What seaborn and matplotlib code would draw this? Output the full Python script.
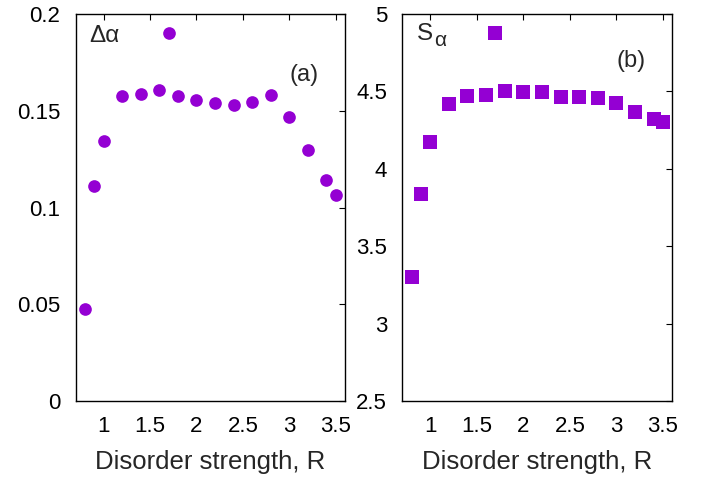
import matplotlib
matplotlib.use("Agg")
import matplotlib.pyplot as plt
import seaborn as sns
import pandas as pd

R = [0.8, 0.9, 1.0, 1.2, 1.4, 1.6, 1.7, 1.8, 2.0, 2.2, 2.4, 2.6, 2.8, 3.0, 3.2, 3.4, 3.5]
delta_alpha = [0.0475, 0.111, 0.1345, 0.1575, 0.1588, 0.1606, 0.1903, 0.1575, 0.1556,
               0.1542, 0.1528, 0.1547, 0.1581, 0.1469, 0.1296, 0.1141, 0.1066]
S_alpha = [3.299, 3.835, 4.171, 4.417, 4.468, 4.477, 4.875, 4.500, 4.494,
           4.494, 4.462, 4.466, 4.455, 4.423, 4.365, 4.322, 4.304]

xticks = [1, 1.5, 2, 2.5, 3, 3.5]
xticklabels = ["1", "1.5", "2", "2.5", "3", "3.5"]
yticks_a = [0, 0.05, 0.1, 0.15, 0.2]
yticklabels_a = ["0", "0.05", "0.1", "0.15", "0.2"]
yticks_b = [2.5, 3, 3.5, 4, 4.5, 5]
yticklabels_b = ["2.5", "3", "3.5", "4", "4.5", "5"]

df = pd.DataFrame({"R": R, "da": delta_alpha, "S": S_alpha})

sns.set_theme(style="white")
plt.rcParams["font.family"] = ["Liberation Sans", "DejaVu Sans"]

color = "#9400D3"
fig = plt.figure(figsize=(7.08, 4.79), dpi=100)
ax1 = fig.add_axes([75.7/708, 1-401/479, (345-75.7)/708, (401-14)/479])
ax2 = fig.add_axes([402.3/708, 1-401/479, (672.3-402.3)/708, (401-14)/479])

sns.scatterplot(data=df, x="R", y="da", ax=ax1, marker="o", s=83, color=color,
                linewidth=0, legend=False)
sns.scatterplot(data=df, x="R", y="S", ax=ax2, marker="s", s=95, color=color,
                linewidth=0, legend=False)

for ax, yt, ytl, ylim in [(ax1, yticks_a, yticklabels_a, (0, 0.2)),
                          (ax2, yticks_b, yticklabels_b, (2.5, 5))]:
    ax.set_xlim(0.7, 3.6)
    ax.set_ylim(*ylim)
    ax.set_xticks(xticks)
    ax.set_xticklabels(xticklabels)
    ax.set_yticks(yt)
    ax.set_yticklabels(ytl)
    ax.tick_params(direction="in", length=4.5, width=0.8, top=True, right=True,
                   labelsize=16, pad=11, colors="black")
    for sp in ax.spines.values():
        sp.set_visible(True)
        sp.set_color("black")
        sp.set_linewidth(1.0)
    ax.set_xlabel("Disorder strength, R", fontsize=18.5, labelpad=9)
    ax.set_ylabel("")

ax1.text(89/708, 1-42/479, "Δα", transform=fig.transFigure, fontsize=17.5, ha="left", va="baseline")
ax1.text(304/708, 1-75/479, "(a)", transform=fig.transFigure, fontsize=17, ha="center", va="center")
ax2.text(417/708, 1-40.5/479, "S", transform=fig.transFigure, fontsize=17.5, ha="left", va="baseline")
ax2.text(434/708, 1-46.5/479, "α", transform=fig.transFigure, fontsize=15, ha="left", va="baseline")
ax2.text(631/708, 1-61/479, "(b)", transform=fig.transFigure, fontsize=17, ha="center", va="center")

fig.savefig("out.png", dpi=100)
